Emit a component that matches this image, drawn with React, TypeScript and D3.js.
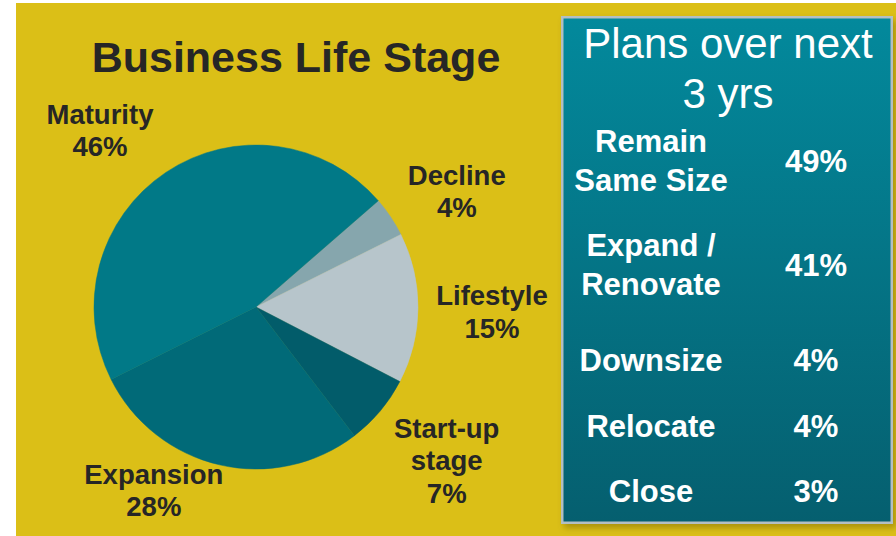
import React, { useEffect, useRef } from "react";
import * as d3 from "d3";

// pie data, clockwise from the Decline slice
const stageNames = ["Decline", "Lifestyle", "Start-up stage", "Expansion", "Maturity"];
const stageValues = [4, 15, 7, 28, 46];
const stageLines = [["Decline"], ["Lifestyle"], ["Start-up", "stage"], ["Expansion"], ["Maturity"]];
const stageColors = ["#86a6ad", "#b7c5cb", "#025c6a", "#016a78", "#017987"];

// right panel
const planNames = [["Remain", "Same Size"], ["Expand /", "Renovate"], ["Downsize"], ["Relocate"], ["Close"]];
const planValues = [49, 41, 4, 4, 3];

const W = 896, H = 536;

export default function App() {
  const ref = useRef<SVGSVGElement>(null);

  useEffect(() => {
    const svg = d3.select(ref.current);
    svg.selectAll("*").remove();

    const defs = svg.append("defs");
    const grad = defs.append("linearGradient").attr("id", "panelGrad")
      .attr("x1", 0).attr("y1", 0).attr("x2", 0).attr("y2", 1);
    grad.append("stop").attr("offset", "0%").attr("stop-color", "#03899c");
    grad.append("stop").attr("offset", "100%").attr("stop-color", "#055f6f");
    const shadow = defs.append("filter").attr("id", "shadow")
      .attr("x", "-5%").attr("y", "-5%").attr("width", "115%").attr("height", "115%");
    shadow.append("feDropShadow").attr("dx", 3).attr("dy", 4).attr("stdDeviation", 3)
      .attr("flood-color", "#6b5a00").attr("flood-opacity", 0.45);

    svg.append("rect").attr("width", W).attr("height", H).attr("fill", "#fff");
    svg.append("rect").attr("x", 16).attr("y", 3).attr("width", W - 16).attr("height", H - 3)
      .attr("fill", "#dbbf17");

    const font = "'Liberation Sans', Arial, sans-serif";
    const dark = "#262626";

    svg.append("text").attr("x", 296).attr("y", 72).attr("text-anchor", "middle")
      .attr("font-family", font).attr("font-weight", "bold").attr("font-size", 43)
      .attr("fill", dark).text("Business Life Stage");

    // pie
    const cx = 256, cy = 307, r = 162;
    const start = 49 * Math.PI / 180;
    const pie = d3.pie<number>().sort(null).value(d => d)
      .startAngle(start).endAngle(start + 2 * Math.PI);
    const arcs = pie(stageValues);
    const arc = d3.arc<d3.PieArcDatum<number>>().innerRadius(0).outerRadius(r);
    const labelArc = d3.arc<d3.PieArcDatum<number>>().innerRadius(232).outerRadius(232);
    const g = svg.append("g").attr("transform", `translate(${cx},${cy})`);
    g.selectAll("path").data(arcs).join("path")
      .attr("d", arc)
      .attr("fill", (_, i) => stageColors[i])
      .attr("stroke", (_, i) => stageColors[i])
      .attr("stroke-width", 0.5);

    // hand nudges so labels sit where the slide had them
    const nudge: [number, number][] = [[8, 23], [4, 13], [13, 14], [-50, -33], [-27, 26]];
    const lh = 32.5;
    arcs.forEach((a, i) => {
      const [lx, ly] = labelArc.centroid(a);
      const x = lx + nudge[i][0], y = ly + nudge[i][1];
      const lines = [...stageLines[i], `${stageValues[i]}%`];
      const t = g.append("text").attr("text-anchor", "middle")
        .attr("font-family", font).attr("font-weight", "bold").attr("font-size", 27.5)
        .attr("fill", dark);
      lines.forEach((ln, j) => {
        t.append("tspan").attr("x", x).attr("y", y + (j - (lines.length - 1) / 2) * lh).text(ln);
      });
    });

    // panel
    const px = 561, py = 16, pw = 332, ph = 508;
    svg.append("rect").attr("x", px).attr("y", py).attr("width", pw).attr("height", ph)
      .attr("fill", "#b3bfc3").attr("filter", "url(#shadow)");
    svg.append("rect").attr("x", px + 2.5).attr("y", py + 2.5).attr("width", pw - 5).attr("height", ph - 5)
      .attr("fill", "url(#panelGrad)");

    const pt = svg.append("text").attr("text-anchor", "middle").attr("font-family", font)
      .attr("font-size", 42).attr("fill", "#fff");
    pt.append("tspan").attr("x", 728).attr("y", 58).text("Plans over next");
    pt.append("tspan").attr("x", 728).attr("y", 108).text("3 yrs");

    const rowCenters = [171.5, 275.5, 371, 437, 502];
    planNames.forEach((nm, i) => {
      const y = rowCenters[i];
      const t = svg.append("text").attr("text-anchor", "middle").attr("font-family", font)
        .attr("font-weight", "bold").attr("font-size", 31).attr("fill", "#fff");
      nm.forEach((ln, j) => {
        t.append("tspan").attr("x", 651).attr("y", y + (j - (nm.length - 1) / 2) * 38.5).text(ln);
      });
      svg.append("text").attr("x", 816).attr("y", y).attr("text-anchor", "middle")
        .attr("font-family", font).attr("font-weight", "bold").attr("font-size", 31)
        .attr("fill", "#fff").text(`${planValues[i]}%`);
    });
  }, []);

  return (
    <svg ref={ref} width={W} height={H}
      style={{ position: "absolute", left: 0, top: 0, display: "block" }} />
  );
}
